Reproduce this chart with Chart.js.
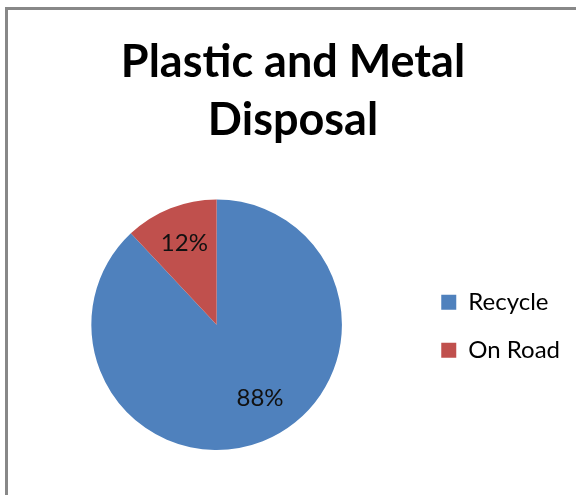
<!DOCTYPE html>
<html>
<head>
<meta charset="utf-8">
<script src="https://cdn.jsdelivr.net/npm/chart.js@4/dist/chart.umd.min.js"></script>
<style>
  html, body { margin: 0; padding: 0; background: #fff; overflow: hidden; }
  #frame {
    position: absolute; left: 5px; top: 7px;
    width: 600px; height: 520px;
    border-top: 3px solid #888888; border-left: 3px solid #888888;
    background: #fff;
  }
  #wrap { position: absolute; left: 0; top: 0; width: 570px; height: 485px; }
</style>
</head>
<body>
<div id="frame"><div id="wrap"><canvas id="c"></canvas></div></div>
<script>
// Disposal split of plastic and metal waste
const categories = ['Recycle', 'On Road'];
const shares = [88, 12];
const sliceColors = ['#4F81BD', '#C0504D'];
const titleLines = ['Plastic and Metal', 'Disposal'];

// Percentage labels drawn inside each slice
const sliceLabels = {
  id: 'sliceLabels',
  afterDatasetsDraw(chart, args, opts) {
    const ctx = chart.ctx;
    const meta = chart.getDatasetMeta(0);
    const values = chart.data.datasets[0].data;
    const total = values.reduce((a, b) => a + b, 0);
    ctx.save();
    ctx.font = opts.font;
    ctx.fillStyle = opts.color;
    ctx.textAlign = 'center';
    ctx.textBaseline = 'middle';
    meta.data.forEach((arc, i) => {
      const p = arc.getProps(['x', 'y', 'startAngle', 'endAngle', 'outerRadius'], true);
      const mid = (p.startAngle + p.endAngle) / 2 + (opts.angleShift[i] || 0) * Math.PI / 180;
      const r = p.outerRadius * opts.radiusFraction[i];
      const pct = Math.round(values[i] / total * 100) + '%';
      ctx.fillText(pct, p.x + Math.cos(mid) * r, p.y + Math.sin(mid) * r);
    });
    ctx.restore();
  }
};

new Chart(document.getElementById('c'), {
  type: 'pie',
  data: {
    labels: categories,
    datasets: [{
      data: shares,
      backgroundColor: sliceColors,
      borderWidth: 0
    }]
  },
  options: {
    responsive: true,
    maintainAspectRatio: false,
    animation: false,
    layout: { padding: { left: 8, right: 8, top: 0, bottom: 45 } },
    plugins: {
      title: {
        display: true,
        text: titleLines,
        color: '#000',
        font: { family: 'Lato', size: 45, weight: 'bold', lineHeight: 1.3 },
        padding: { top: 23, bottom: 49.4 }
      },
      legend: {
        position: 'right',
        title: {
          display: true,
          text: ' ',
          font: { family: 'Lato', size: 12, lineHeight: 1.2 },
          padding: { top: 178, bottom: 0 }
        },
        labels: {
          color: '#000',
          font: { family: 'Lato', size: 24 },
          boxWidth: 15,
          boxHeight: 15,
          padding: 24
        }
      },
      tooltip: { enabled: false },
      sliceLabels: {
        font: '24px Lato',
        color: '#111',
        radiusFraction: [0.68, 0.70],
        angleShift: [-9, 0]
      }
    }
  },
  plugins: [sliceLabels]
});
</script>
</body>
</html>
